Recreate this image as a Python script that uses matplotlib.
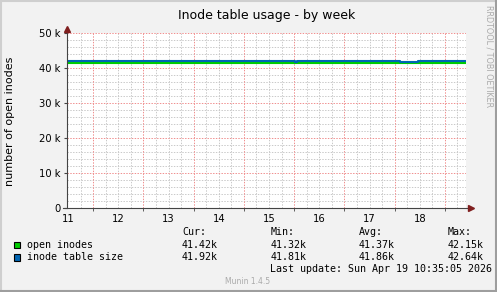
import numpy as np
import matplotlib
matplotlib.use("Agg")
import matplotlib.pyplot as plt
from matplotlib.lines import Line2D
from matplotlib.patches import Rectangle

# Datos (tiempo en dias, valores en miles)
dias = [11, 12, 13, 14, 15, 16, 17, 18]
y_ticks = [0, 10000, 20000, 30000, 40000, 50000]
y_labels = ["0", "10 k", "20 k", "30 k", "40 k", "50 k"]

t_size = [11.48, 11.78, 11.84, 12.50, 12.56, 12.70, 12.76, 12.89, 12.95,
          13.09, 13.15, 13.29, 13.35, 16.02, 16.06, 18.10, 18.46, 19.42]
v_size = [42.00, 41.90, 42.00, 41.90, 42.00, 41.90, 42.00, 41.90, 42.00,
          41.90, 42.00, 41.90, 41.97, 41.82, 41.97, 41.80, 41.97, 41.97]

t_open = [11.48, 12.10, 12.20, 13.40, 19.42]
v_open = [41.40, 41.33, 41.40, 41.42, 41.42]

series = ["open inodes", "inode table size"]
colores = ["#00CC00", "#0066B3"]
cur = ["41.42k", "41.92k"]
mins = ["41.32k", "41.81k"]
avgs = ["41.37k", "41.86k"]
maxs = ["42.15k", "42.64k"]

W, H = 497, 292
fig = plt.figure(figsize=(W / 100, H / 100), dpi=100, facecolor="#F2F2F2")


def fx(px):
    return px / W


def fy(py):
    return 1 - py / H


# marco 3D
fig.add_artist(Line2D([fx(1), fx(1)], [0, 1], color="#CFCFCF", lw=1.5))
fig.add_artist(Line2D([0, 1], [fy(1), fy(1)], color="#CFCFCF", lw=1.5))
fig.add_artist(Line2D([fx(W - 1), fx(W - 1)], [0, 1], color="#9E9E9E", lw=1.5))
fig.add_artist(Line2D([0, 1], [fy(H - 1), fy(H - 1)], color="#9E9E9E", lw=1.5))

x0, x1 = 11.48, 19.42
ax = fig.add_axes([fx(67), fy(208), fx(466) - fx(67), fy(33) - fy(208)])
ax.set_facecolor("white")
ax.set_xlim(x0, x1)
ax.set_ylim(0, 50000)
for s in ax.spines.values():
    s.set_visible(False)

# rejilla punteada
gris = dict(color="#CACACA", lw=0.72, ls=(0, (1.4, 1.4)), zorder=0)
rojo = dict(color="#F09090", lw=0.72, ls=(0, (1.4, 1.4)), zorder=1)
for v in np.arange(11.75, 19.5, 0.25):
    if abs(v - round(v)) > 1e-6:
        ax.axvline(v, **gris)
for v in np.arange(2000, 50001, 2000):
    if v % 10000:
        ax.axhline(v, **gris)
for v in range(12, 20):
    ax.axvline(v, **rojo)
for v in y_ticks[1:]:
    ax.axhline(v, **rojo)

# series
ax.step(t_open, np.array(v_open) * 1000, where="post", color=colores[0], lw=1.5, zorder=3)
ax.step(t_size, np.array(v_size) * 1000, where="post", color=colores[1], lw=1.5, zorder=4)

# ejes
ax.set_xticks([d + 0.5 for d in dias])
ax.set_xticklabels([str(d) for d in dias], fontsize=7.2)
ax.set_xticks(range(12, 20), minor=True)
ax.tick_params(axis="x", which="major", length=0, pad=4)
ax.tick_params(axis="x", which="minor", length=2.5, direction="out", color="#444444")
ax.set_yticks(y_ticks)
ax.set_yticklabels(y_labels, fontsize=7.2)
ax.tick_params(axis="y", length=2, pad=2.5, color="#444444")
fig.text(fx(10), fy(121), "number of open inodes", rotation=90, fontsize=8,
         ha="center", va="center")

fig.add_artist(Line2D([fx(67), fx(67)], [fy(208), fy(30)], color="#444444", lw=0.8))
fig.add_artist(Line2D([fx(63), fx(470)], [fy(208), fy(208)], color="#444444", lw=0.8))
fig.add_artist(Line2D([fx(67)], [fy(28.5)], marker="^", ms=4.5, color="#801F1F", lw=0))
fig.add_artist(Line2D([fx(471)], [fy(208)], marker=">", ms=4.5, color="#801F1F", lw=0))

# textos
fig.text(fx(267), fy(18.5), "Inode table usage - by week", fontsize=9,
         ha="center", va="baseline")
fig.text(fx(489), fy(5), "RRDTOOL / TOBI OETIKER", fontsize=5.8, rotation=270,
         ha="center", va="top", color="#AAAAAA")

mono = "DejaVu Sans Mono"
fs = 7.2
cols = [182, 271, 359, 448]
for x, h in zip(cols, ["Cur:", "Min:", "Avg:", "Max:"]):
    fig.text(fx(x), fy(232), h, family=mono, fontsize=fs, ha="left", va="center")
for i, (nom, col) in enumerate(zip(series, colores)):
    yy = 245 + 12.5 * i
    fig.add_artist(Rectangle((fx(13.5), fy(yy + 3.2)), fx(6.5), fy(0) - fy(6.5),
                             facecolor=col, edgecolor="black", lw=0.8))
    fig.text(fx(27), fy(yy), nom, family=mono, fontsize=fs, ha="left", va="center")
    for x, val in zip(cols, [cur[i], mins[i], avgs[i], maxs[i]]):
        fig.text(fx(x), fy(yy), val, family=mono, fontsize=fs, ha="left", va="center")

fig.text(fx(492), fy(268.5), "Last update: Sun Apr 19 10:35:05 2026", family=mono,
         fontsize=fs, ha="right", va="center")
fig.text(fx(248), fy(281), "Munin 1.4.5", fontsize=5.5, ha="center", va="center",
         color="#AAAAAA")

fig.savefig("out.png", dpi=100, facecolor=fig.get_facecolor())
